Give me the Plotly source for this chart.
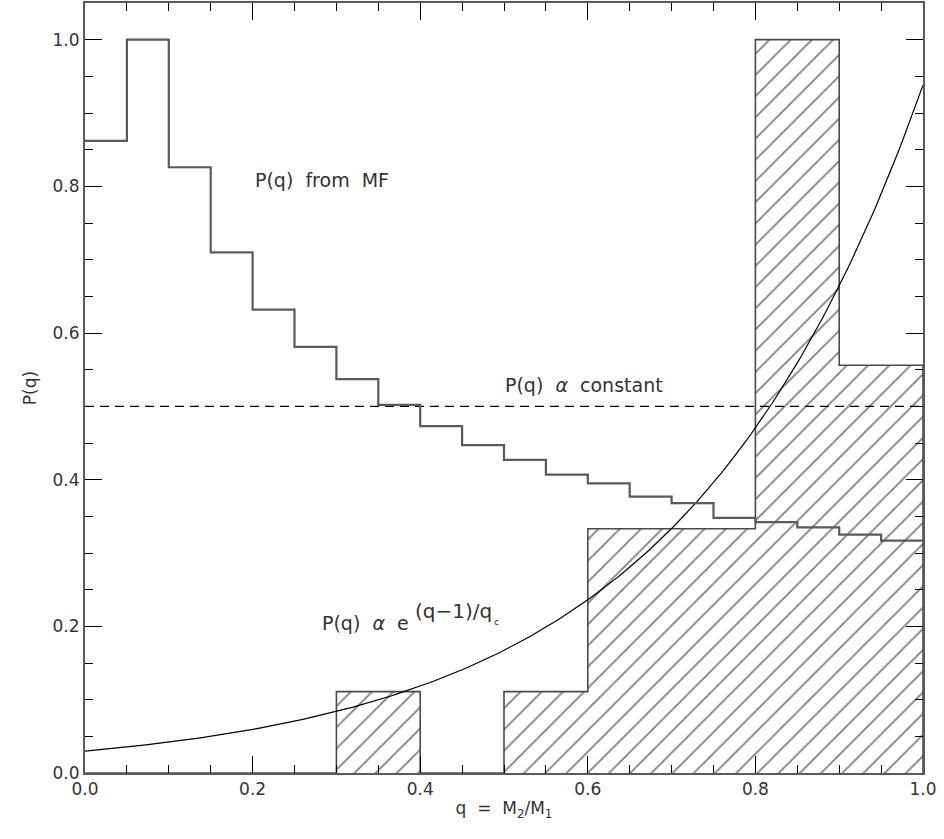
import numpy as np
import plotly.graph_objects as go

# MF-derived P(q): 20 bins of width 0.05
mf_edges = [round(0.05 * i, 2) for i in range(21)]
mf_values = [0.862, 1.0, 0.826, 0.710, 0.632, 0.581, 0.537, 0.502, 0.473, 0.447,
             0.427, 0.407, 0.395, 0.377, 0.368, 0.348, 0.342, 0.335, 0.325, 0.317]

# Observed histogram (hatched), 10 bins of width 0.1
obs_edges = [round(0.1 * i, 1) for i in range(11)]
obs_values = [0.0, 0.0, 0.0, 0.111, 0.0, 0.111, 0.333, 0.333, 1.0, 0.556]

# Exponential model parameters P(q) = A * exp((q-1)/qc)
exp_amp = 0.938
exp_qc = 0.29

const_level = 0.5

font_family = "DejaVu Sans, Verdana, sans-serif"
text_color = "#333333"

fig = go.Figure()

obs_centers = [(obs_edges[i] + obs_edges[i + 1]) / 2 for i in range(len(obs_values))]
fig.add_trace(go.Bar(
    x=obs_centers, y=obs_values, width=0.1,
    marker=dict(color="white",
                line=dict(color="rgba(0,0,0,0)", width=0),
                pattern=dict(shape="/", fgcolor="black", bgcolor="white",
                             size=15, solidity=0.12)),
    showlegend=False, hoverinfo="skip",
))

# outline of hatched histogram as a step line
ox, oy = [obs_edges[0]], [0.0]
for i, v in enumerate(obs_values):
    ox += [obs_edges[i], obs_edges[i + 1]]
    oy += [v, v]
ox.append(obs_edges[-1])
oy.append(0.0)
fig.add_trace(go.Scatter(
    x=ox, y=oy, mode="lines",
    line=dict(color="#4a4a4a", width=1.6), showlegend=False,
))

q = np.linspace(0, 1, 201)
fig.add_trace(go.Scatter(
    x=q, y=exp_amp * np.exp((q - 1) / exp_qc), mode="lines",
    line=dict(color="black", width=1.2), showlegend=False,
))

fig.add_trace(go.Scatter(
    x=[0, 1], y=[const_level, const_level], mode="lines",
    line=dict(color="black", width=1.3, dash="9px,6px"), showlegend=False,
))

step_x, step_y = [], []
for i, v in enumerate(mf_values):
    step_x += [mf_edges[i], mf_edges[i + 1]]
    step_y += [v, v]
fig.add_trace(go.Scatter(
    x=step_x, y=step_y, mode="lines",
    line=dict(color="#5a5a5a", width=2.2), showlegend=False,
))

font = dict(family=font_family, size=19, color=text_color)

fig.add_annotation(x=0.200, y=0.808, text="P(q)  from  MF", showarrow=False,
                   xanchor="left", yanchor="middle", font=font)
fig.add_annotation(x=0.499, y=0.529, text="P(q)  <i>α</i>  constant", showarrow=False,
                   xanchor="left", yanchor="middle", font=font)
fig.add_annotation(x=0.3896, y=0.205, text="P(q)  <i>α</i>  e", showarrow=False,
                   xanchor="right", yanchor="middle", font=font)
fig.add_annotation(x=0.391, y=0.221, text="(q−1)/q", showarrow=False,
                   xanchor="left", yanchor="middle", font=dict(family=font_family, size=20, color=text_color))
fig.add_annotation(x=0.4855, y=0.206, text="c", showarrow=False,
                   xanchor="left", yanchor="middle", font=dict(family=font_family, size=9, color=text_color))

axis_common = dict(
    showline=True, linecolor="#5a5a5a", linewidth=2, mirror="allticks",
    ticks="inside", ticklen=17, tickcolor="black", tickwidth=1,
    showgrid=False, zeroline=False, automargin=False,
    tickfont=dict(family=font_family, size=17, color=text_color),
    tickformat=".1f",
)

fig.update_xaxes(range=[0, 1], dtick=0.2, tick0=0,
                 minor=dict(dtick=0.05, ticklen=8, ticks="inside", tickcolor="black"),
                 title=dict(text="q  =  M<sub>2</sub>/M<sub>1</sub>",
                            font=dict(family=font_family, size=17, color=text_color), standoff=4),
                 **axis_common)
fig.update_yaxes(range=[0, 1.05], dtick=0.2, tick0=0,
                 minor=dict(dtick=0.05, ticklen=8, ticks="inside", tickcolor="black"),
                 title=dict(text="P(q)", font=dict(family=font_family, size=17, color=text_color),
                            standoff=12),
                 **axis_common)

fig.update_layout(
    width=944, height=839,
    margin=dict(l=85, r=21, t=3, b=66),
    plot_bgcolor="white", paper_bgcolor="white",
    bargap=0, barmode="overlay",
)

fig.write_html("out.html", config={"displayModeBar": False},
               post_script="document.body.style.margin='0';")
